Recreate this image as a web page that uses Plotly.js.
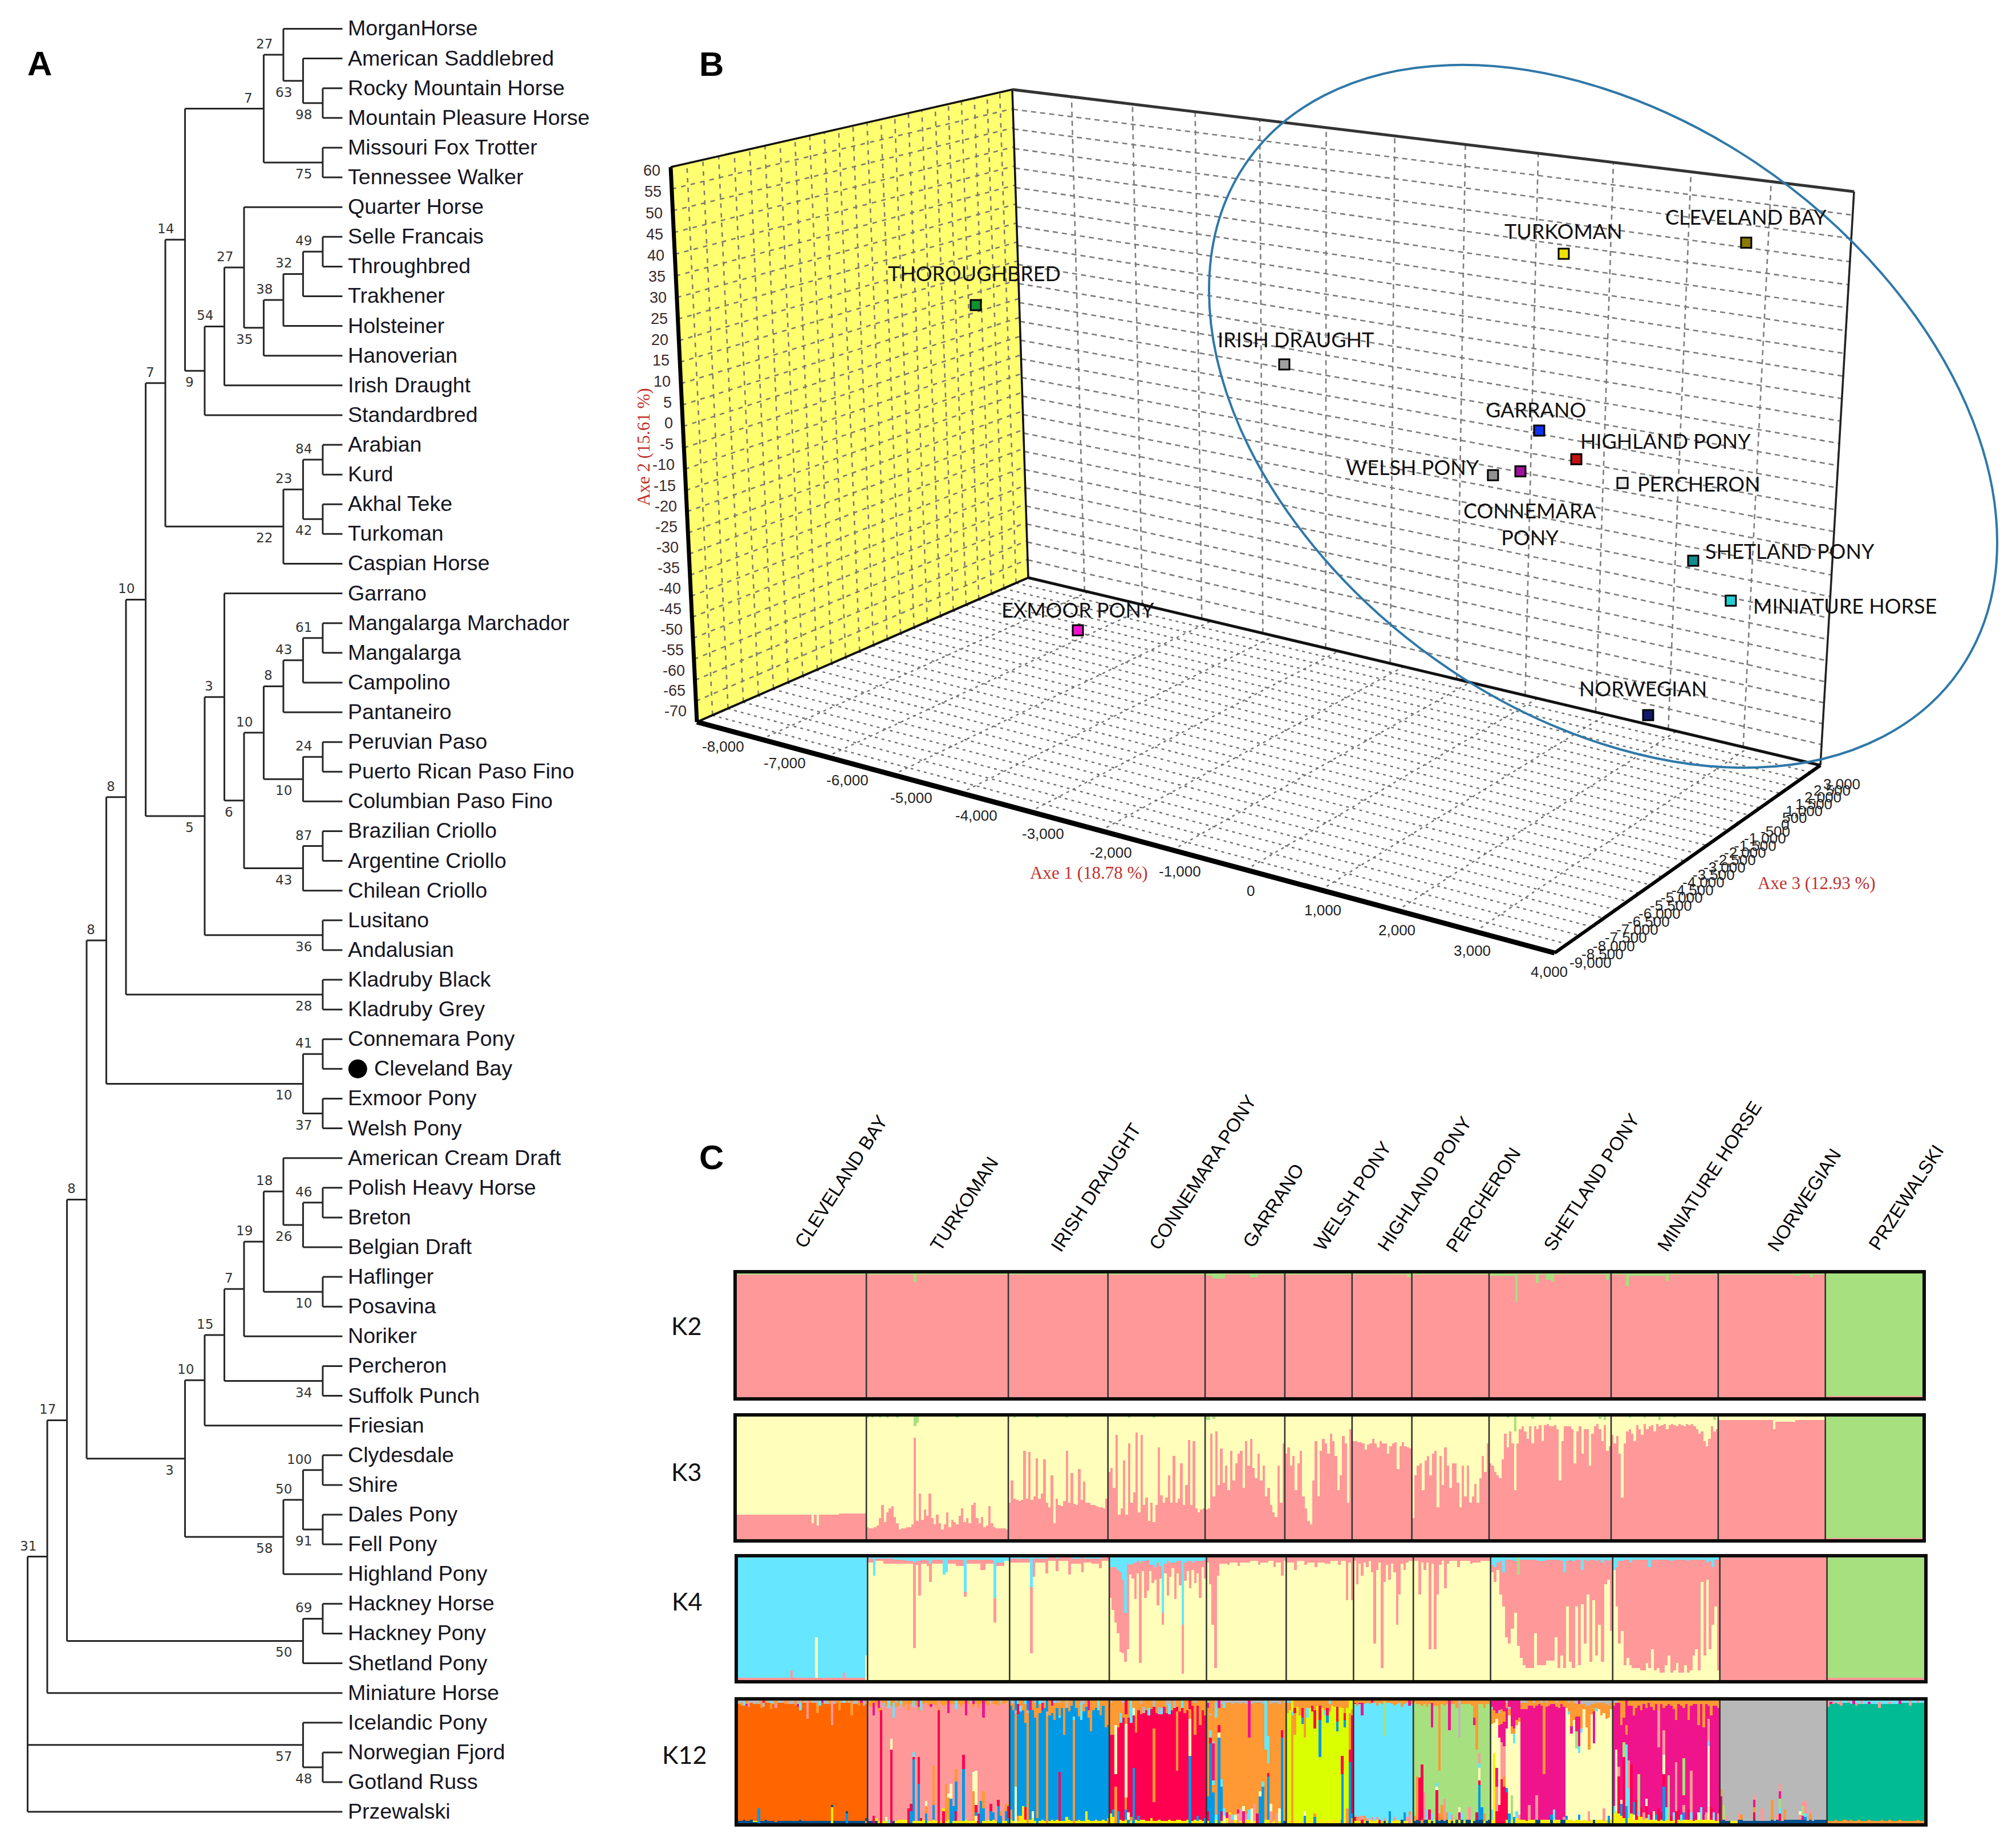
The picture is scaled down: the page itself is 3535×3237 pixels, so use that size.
<!DOCTYPE html>
<html><head><meta charset="utf-8">
<script src="https://cdn.plot.ly/plotly-3.0.1.min.js"></script>
<style>html,body{margin:0;padding:0;background:#fff}</style></head>
<body><div id="chart" style="width:3535px;height:3237px"></div>
<script>
/* ---------- PANEL A data: [level, bootstrap support, children...], leaf = name ---------- */
const TREE = [0,"",
 [1,"31",
  [2,"17",
   [3,"8",
    [4,"8",
     [5,"8",
      [6,"10",
       [7,"7",
        [8,"14",
         [12,"7",
          [13,"27","MorganHorse",[14,"63","American Saddlebred",[15,"98","Rocky Mountain Horse","Mountain Pleasure Horse"]]],
          [15,"75","Missouri Fox Trotter","Tennessee Walker"]],
         [9,"9",
          [10,"54",
           [11,"27","Quarter Horse",[12,"35",[13,"38",[14,"32",[15,"49","Selle Francais","Throughbred"],"Trakhener"],"Holsteiner"],"Hanoverian"]],
           "Irish Draught"],
          "Standardbred"]],
        [13,"22",[14,"23",[15,"84","Arabian","Kurd"],[15,"42","Akhal Teke","Turkoman"]],"Caspian Horse"]],
       [9,"5",
        [10,"3","Garrano",[11,"6",[12,"10",[13,"8",[14,"43",[15,"61","Mangalarga Marchador","Mangalarga"],"Campolino"],"Pantaneiro"],[14,"10",[15,"24","Peruvian Paso","Puerto Rican Paso Fino"],"Columbian Paso Fino"]],[14,"43",[15,"87","Brazilian Criollo","Argentine Criollo"],"Chilean Criollo"]]],
        [15,"36","Lusitano","Andalusian"]]],
      [15,"28","Kladruby Black","Kladruby Grey"]],
     [14,"10",[15,"41","Connemara Pony","Cleveland Bay"],[15,"37","Exmoor Pony","Welsh Pony"]]],
    [8,"3",
     [9,"10",
      [10,"15",
       [11,"7",
        [12,"19",
         [13,"18","American Cream Draft",[14,"26",[15,"46","Polish Heavy Horse","Breton"],"Belgian Draft"]],
         [15,"10","Haflinger","Posavina"]],
        "Noriker"],
       [15,"34","Percheron","Suffolk Punch"]],
      "Friesian"],
     [13,"58",[14,"50",[15,"100","Clydesdale","Shire"],[15,"91","Dales Pony","Fell Pony"]],"Highland Pony"]]],
   [14,"50",[15,"69","Hackney Horse","Hackney Pony"],"Shetland Pony"]],
  "Miniature Horse"],
 [14,"57","Icelandic Pony",[15,"48","Norwegian Fjord","Gotland Russ"]],
 "Przewalski"];

/* ---------- PANEL B data ---------- */
const POP_NAMES = ["THOROUGHBRED","CLEVELAND BAY","TURKOMAN","IRISH DRAUGHT","GARRANO","HIGHLAND PONY","CONNEMARA<br>PONY","WELSH PONY","PERCHERON","SHETLAND PONY","MINIATURE HORSE","NORWEGIAN","EXMOOR PONY"];
const POP_AXE1  = [-8775,2729,378,-3640,106,627,-142,-528,1262,2237,2748,1721,-7137];
const POP_AXE2  = [2.3,46.1,38.0,0.9,-4.2,-9.4,-14.8,-17,-13,-28.1,-35.7,-67.7,-81.5];
const POP_COLOR = ["#109030","#8a7a00","#f0e000","#a0a0a0","#1030f0","#c01010","#a0109a","#909090","#e8e8e8","#108c90","#20d0d0","#101a6a","#f010d0"];
const POP_LABEL_DX = [-3,0,0,20,-6,156,17,-141,134,169,200,-9,0];
const POP_LABEL_DY = [-56,-45,-40,-44,-37,-32,92,-14,1,-17,9,-47,-36];
const AXE1_TICKS = [-8000,-7000,-6000,-5000,-4000,-3000,-2000,-1000,0,1000,2000,3000,4000];
const AXE2_TICKS = [60,55,50,45,40,35,30,25,20,15,10,5,0,-5,-10,-15,-20,-25,-30,-35,-40,-45,-50,-55,-60,-65,-70];
const AXE3_TICKS = [-9000,-8500,-8000,-7500,-7000,-6500,-6000,-5500,-5000,-4500,-4000,-3500,-3000,-2500,-2000,-1500,-1000,-500,0,500,1000,1500,2000,2500,3000];

/* ---------- PANEL C data ---------- */
const BREEDS = ["CLEVELAND BAY","TURKOMAN","IRISH DRAUGHT","CONNEMARA PONY","GARRANO","WELSH PONY","HIGHLAND PONY","PERCHERON","SHETLAND PONY","MINIATURE HORSE","NORWEGIAN","PRZEWALSKI"];
const BREED_N = [52,57,40,39,32,27,24,31,49,43,43,39];
const BREED_CX = [1474,1690,1921,2108,2232,2371,2497,2600,2790,2997,3163,3342];
const BREED_CY = [2072,2111,2082,2056,2114,2097,2076,2104,2073,2062,2104,2099];
const CLUSTER = {p:"#ff9999",g:"#a6e07f",y:"#ffffbb",c:"#66e6ff",o:"#ff6600",b:"#0099e6",r:"#ff0050",a:"#ff9933",l:"#d9ff00",m:"#f0148c",s:"#b8b8b8",t:"#00bb94",k:"#ffee00",n:"#00508c"};
/* each column: cluster letter + percent, bottom to top; "_" = rest of the column in the breed's main cluster; *n = n individuals */
const K2_FILL = ["p","p","p","p","p","p","p","p","p","p","p","g"];
const K2_COLS = [
 "_g1*52",
 "_g1*19 _g7 _g1*37",
 "_g1*40",
 "_g1*39",
 "_g2*3 _g4*5 _g1*10 _g3*3 _g1*11",
 "_g1*27",
 "_g1*22 _g3*2",
 "_g1*31",
 "_g2*10 _g23 _g1*7 _g8 _g1*3 _g5*2 _g7 _g1*20 _g5 _g1",
 "_g1*6 _g10 _g2*15 _g6 _g1*20",
 "_g1*30 _g2*3 _g1*4 _g3 _g1*5",
 "p1_*39"];
const K3_FILL = ["y","y","y","y","y","y","y","y","y","y","y","g"];
const K3_COLS = [
 "p20*30 p13 p20 p11 p20*8 p21*11",
 "p10_g1 p9 p9_g1 p10 p11 p17_g1 p28 p14 p22_g1 p25 p27 p18 p13_g1 p8 p9 p9 p10 p10 p12 p83_g8 p15_g5 p37 p16 p24 p19 p37 p17 p12 p20 p13 p8 p12 p22 p10 p16 p14 p12_g1 p19 p25 p14 p17 p13 p28 p30 p17 p13 p18 p10 p11 p27 p13 p10 p9 p9 p9 p9 p8",
 "p30 p48 p33_g1 p32 p31 p32 p72 p33 p71 p32 p35 p66_g1 p33 p37 p65 p30 p26 p52 p13 p33 p28 p27 p31 p72_g1 p30 p54 p29 p28 p57 p32 p47 p30 p30 p28 p28 p27 p26 p26 p25 p33",
 "p55 p58 p42 p85 p20 p25 p64 p20 p78_g1 p30 p38 p87 p22 p85 p28 p34 p15 p30 p14_g1 p28 p75 p36 p30 p34 p52 p30 p68 p30 p33 p62 p28 p44 p81 p28 p80 p25 p22 p24 p25",
 "p24_g3 p25_g3 p86 p35_g2 p88 p44 p74 p46 p60 p40 p72 p48 p62 p70 p72 p42 p80 p60 p82 p58 p50 p70 p48 p60 p35 p42 p28 p22 p18 p60 p30 p78",
 "p70 p75 p60 p68 p40 p62 p72 p35 p25 p15 p12 p48 p80 p35 p72 p82 p78 p70 p86 p80 p68 p40 p52 p84 p78 p30 p90",
 "p80 p80 p79 p79 p78 p73 p77 p78 p82 p78 p75 p80 p78 p78 p70 p76 p78 p79 p57 p76 p79 p76 p75 p74",
 "p17 p52 p60 p62 p40 p64 p68 p52 p70 p72 p26 p68 p44 p75 p60 p42 p62 p62 p46 p26 p60 p35 p60 p30 p35 p45 p30 p50 p68 p55 p78",
 "p62 p60 p55 p52 p50 p65 p86 p75_g1 p88 p78 p40_g12 p78 p90 p92 p88 p82 p92 p78_g2 p92 p90 p93 p80 p93 p94 p92_g3 p92 p93 p90 p48 p80 p92 p92 p92 p90 p62 p88 p92 p70 p90 p90 p60 p86 p92 p94 p90_g2 p80 p93_g3 p72 p76",
 "p85 p78 p84 p70 p34 p78 p88 p90_g1 p86 p80 p93 p90 p85 p94_g1 p90 p92 p93 p88 p94 p92_g3 p93 p94 p90 p93 p94 p93_g1 p92 p94 p93 p92 p94 p93 p94 p92 p90 p86 p88 p80 p76 p82 p92 p88_g3 p90",
 "p97*22 p90 p96*8 p97*12",
 "p1g99*39"];
const K4_FILL = ["c","y","y","y","y","y","y","y","p","p","p","g"];
const K4_COLS = [
 "p2_*21 p8_ p2_*9 p2y33_ p2_*10 p6_ p2_*8 y20_",
 "_p3c1*2 _c15 _p2c1*3 _p4c1*4 _p3c2*4 _p2c3*3 _p70c4 _p3c3 _p28c3 _p3c2*2 _p4c3 _p15c5 _p3c2*4 _c14 _c12 _p3c2*3 _p5c2*3 _p4c28 _p3c2*5 _p8c2*2 _p3c2*3 _p20c33 _p3c4*3 _c3*2",
 "_p3c1*8 _p54c24 _p15c1 _p3c1*4 _p12c1 _p3*3 _p10c1 _p3*4 _p14 _p4c1*4 _p12 _p3c1*3 _p4c1*3 _p8c1 _p3*3",
 "_p25c8 _p35c8 _p45c8 _p52c10 _p65c12 _p60c18 _p40c45 _p70c5 _p8c6 _p12c5 _p30c4 _p10c3 _p82c4 _p8c3 _p30c3 _p25c2 _p5c6 _p15c6 _p10c8 _p35c4 _p10c7 _p10c45 _p8c5 _p28c3 _p12c4 _p5c4 _p30c4 _p10c3 _p20c3 _p40c55 _p15c4 _p8c3 _p22c3 _p6c4 _p18c3 _p10c3 _p30c3 _p5c3 _p15c2",
 "_p4 _p22 _p55 _p90 _p15 _p5*3 _p6 _p4*3 _p7 _p4*4 _p3*3 _p6 _p4*3 _p3*2 _p8 _p4*2 _p15 _p3",
 "_p4*3 _p10 _p3*3 _p6 _p4*3 _p8 _p4*3 _p5*2 _p3*3 _p6 _p3*2 _p35 _p4 _p35",
 "_p3 _p22 _p5 _p15 _p4 _p8 _p3 _p12 _p70 _p10 _p4 _p90 _p20 _p6 _p18 _p5 _p12 _p55 _p30 _p5 _p10 _p4 _p3*2",
 "_p3*2 _p30 _p4 _p10 _p4 _p75 _p5 _p75 _p30 _p6 _p3 _p25 _p5 _p3*3 _p8 _p3*4 _p5 _p4*3 _p3*4",
 "y88_c6 y80_c8 y90_c4 y70_c3 y60_c12 y35_c2 y30_c2 y42_c2 y55_c3 y28_g14 y18_c2 y12_c2 y10_c2*3 y38_c2 y12_c3*3 y16_c2*3 y35_c2 y10_c2 y20_c3 y10_c12 y60_c3 y15_c2 y10_c3 y60_c2 y12_c2 y62_c10 y30_c2 y70_c3 y15_c2 y65_c2 y20_c3 y45_c2 y15_c4 y78_c2 y82_c3 y40_c2",
 "y90_c10 y60_c8 y30_c3 y40_c3 y12_c2 y18_c2 y12_c4 y10_c2*3 y8_c2*2 y14_c2 y10_c8 y25_c2 y8_c2 y10_c2 y6_c2*2 y12_c2 y20_c2 y6_c3 y8_c2 y14_c2 y6_c2*2 y12_c2 y6_c3 y8_c2 y20_c2 y25_c2 y8_c2 y80_c2 y20_c2 y82_c4 y25_c3 y45_c8 y60_c2 y8_c2",
 "_*43",
 "p2_*39"];
const K12_FILL = ["o","p","b","r","a","l","c","g","m","m","s","t"];
const K12_COLS = [
 "n2_s3 n2_a2s2 n3_c3s1 n2_m1a3 n2_p4s1 n3_s2 n1k1_s3*2 b12_s3 n2_a6 n2_s3m2 n3_a2 n2_s2 n2_a5c2 n2_s3 n1_p3a3 n2_s2*3 n2_a3 n2_p3 n2_s3*2 n2_a4 n2_m2s3 n3_c6s2 n2_a2 n2_s2 n2_p15 n2_a2 n2_s2*2 n2_a8s2 n2_c4 n2_m2 n2_s3*2 n2_a3 k13n2_p20 n2_s3 n2_a2 n2_a8 n2_s2 n2_c2 b8n2_a2 n2_s2 n2_a12 n2_s3*2 n2_a4 n2_m2 n2_s4 a2n2_a3",
 "n2_a3s1 n2_a5 r6_m10a2 n2k2_a4 k2_a3m6 r92a2 k2_s3a2 k2y3_a4 c3_c6 r60y9_a4 n2_c12a2 k2_a3s2 k3_a4 k3_s3c3 k3_a5 k3_a3 r12_a8 b10r6_a3 k2b50r2c4_c5 k2_a4 k2b30r22_a3m5 k2r2_c8 k3_a3 b8a6y4_a2 k2_a4 k2_m2a3 k3b12a32_a3 k2_a4 r92a3 k2_a3 r10k2_a4 k2a30_a3 k3a18y3_m10 b20y12_a3 k2b12_a3 k2r8b24a10_c7 k2_a3 k2_a5 k2b42r12_a3 k3_m12 k2_a3 k2_s2 k2a24y16_a2m3 k2y4b3r6y28_a3 r8_a6 b18_a3 k2b10a14_m14 k2_a3 k3_a4 k2b8r6_s2 k3b6_a3 k2_a3 b14r5_a4 b6a4_s3 k2_a3 k2b8a6_a2 b4r10a2_s3",
 "k3a8_a2s2 k2_a5s3 y30a60s2 k2a4_r8s3 k6_c5a4 k14_a8 k3r10_a15c3 a90s2 k3_m8 k4y6_a8 k2_a12s2 b4a90 k2_a7c3 k3_m6s2 k2_a4s2 a88s3 k2_a12 k3_a6m4 k2_a14c2 k3_a4s2 k2r40_c2a10s2 k2_a6 k2_a28 k5_s6 k3_a9 k2_a4 a84c3 k2_a6 k3_a13 k2_c14s2 k2_a6s3 k10_a5 k3_a6m8 k2_a25 k2_a8 k3_a6 k2_c8 k2_a12 k3_a4 k2_a22 a4_a20",
 "k8_a26s2 k5b6_a28 a30_y40a20 b10_a22 k3_c8a10 k2_a12s2 k3b8a10y60a8 b3y6_a14 k2a3_c18 b45_y6a6 k3_a26 k2b4_a8 k3_a8s3 k3_s5a5 k2_a8 k2_c6a6 k4_a7 k2r15a60_s5 k2_a10 k3_s6a5 k2_c5a6 k2_m5a5 k2_a6s4 k3_c8s3 k2_a8 k2_s6 k3r40a48_a5 k3_a9 k2_c6 k2_a10 k3_a8 b55y30a8 k2_a4 k3_a26s2 k2b4_a4 k3_a20 k2_a8 b4_a12",
 "k2r8b12_m4s2 b65r5c6a12s2 b25a6c4m30s2 k3c4a10_c12s2 b70y4r6_m6 k2r8b20c6a4_s3 y6c6_c4s2 k4m5_s2 p7k2_s2 p3c4_s3 k3y4_s2 p8m3_s2 k2p10_s3 m10y4_s2 k3p5_s3 k3c8_m30 y12_s3 k2p14_s2 r8a6_s2 b22y4_s2 b30c4_s3 k3_c40 k3b35r3a8c22 p10y6_s3 k2_s2 p8_s2 k2y10_s3 b70r6_a6 n2_s2",
 "k3_a8c2 k3_a6s2 a88c3 k3_a18r4a6 k3_a5 k3_a12 k3_b5r8a6 b6y4_a30 k3_c8a6 k3_a6 k3_r5a4 b5a3_r15a8 k3_a4 k3_b30r12a4 k3_a6 k3_c4a8 k3_b6r6a6 k3_a6c3 k3_a4 k3_a5 k3_b8r12a5 k3_a5 b40r15_a6 k3_b6r6a10 a12_a6 b50r10a30 a4b4r80a5",
 "k2r3p2_m1a2 k2a3_a4 k2p4_m1a2 r3p3_m10a2 k2a4_a3 n2p2_a2 k3_a3 k2p3_m2 k2_a2 k3p2_a4 r3_a2 k2_a3 n2p2_g28a1 k2_a2 b10_a2 k2_a3 k2p3_a4 k3_a3 k2_a2 n3_a5 k2b7_a3 k2p3_a2 p7a3_m4 k3_a3",
 "n2a4_a2 n3a35_a3 n2r35_a3 a3r45_a4 n3p22_a3 n3c8_a5 k3r8_a3 n2c6_m20a2 k3_a4 n3r24y3c3_a4 n2a6_a57 n3a12_a3 n2p18_a4 n3a6_a3 k3c6_m24 n2p5_a3 k3_a3 n3_a6 k3r6y4_s30 n3c6_a3 k2_a3 n3_a3 n3p10_a3 k3_a4 n2_m6a14 n3r6_a40 n3b28r4y10c4p8_a3 n3b10_a3 k2a6_a6 n2_a3 n3_a3",
 "k3c8y70a12s2 k2k55y25a10 r10p20m15y40a5 r15y55m10a10s2 r36p30m15a12 r30a8p25m20a8 k3r22b4y48_a4s2 b8y80a5s2 k3g20y50a6 b5y60c8a4 k4c6y70a4 k3p4y76a3 k3_a5s2*2 k2_a5s2 k3p12_a4 k3_a4 k3_a4s2 n3p20_a4 n3_a3 k3_a2s2 k3_a60 k3_a3s2 k3_a4 n3b4_a3 k3c8_a3 k3_a3s2 k3_a6 n3_a3 n3p2_a5 k3b3y88a6 k3y86c2a7s2 k3y70m6a18a3 k2y82a14s2 k3y58g14m12a10s3 k3b4y50c6m24a10 k2y72c3a20s3 k3y90a4s3 k2y76a18s4 k2p8y50a36s4 k3y86a8s3 n3y62m26a6s3 k3y88c3a4s2 k3y90a5s2 k3y85a10s2 k2p10y78a8s2 k3y82a12s3 b6y80a10s4 k3y90a5s2",
 "k8c6_a2s2 k10y50_s2 k8r30p8_a2 k6b10y3_a20 k4r50g12_a14 b14c50m8a8 k4c25p22_a4 k8r40_a4 k3y4b10_a12 k3r16_a6 k6c4g30_a4 k5r8_a8 k3p6_a3 k4r10y6_a6 k3c4_a2 k3r6_a5 k2y8_a8 k3b4_a3 k2r10_p30a8 k3r6_a3 k2b28r10y16p20_a6 k3c10_a4 k3g36_a3 k2r4_a4 k3c6_a7 r10p40_a16 k3r8_a3 k2c5_a4 k3b6p6m8g30_a6 k3_a3 k3r8_a16 k3c6p34_a4 k2_a3 k3r4_a3 k3y6_a20 k3c10_a3 k3r4_a22 k3p6_a3 k3y60c4p18_a4 k3r10_a12 k3c6_a4 k2_a4 k2p6_a6",
 "n2r20a6_ n3g12_ n2p4_ n2_ k2_*3 n3p6_ n3a4_ n2_*4 n3r6a4m6p4_ n2_*2 n2p10_ n2_*3 n3a16_ n2_ n3p4_ n2r6c4g8m6p6_ n2_ n3a8_ n3_*5 n3p4y3_ n3m3g8p3_ n3b2c3p10_ n2_ n3a5p3_ n2_ n3_*2 n3_ n3_*2",
 "a2_p5 a2_m2c1 a2_p3 a3_c2 a2_p2c1 a2_p4 a3_c2*2 a2_p2 a3_c3 a2_m3 a2_p2c2 a3_c3 a2_p3 a2_c3*2 a3_m2c1 a2_c3*3 a2_p5c1 a3_c3 a2_c3*2 a3_p2c1 a2_c3*3 a3_m3 a2_c2*3 a2_p4 a2_c2*2 a3_p2 a2_c2*2"];

/* ---------- layout helpers (page pixels) ---------- */
const W = 3535, H = 3237;
const domX = (a,b)=>[a/W,b/W];
const domY = (top,bot)=>[1-bot/H,1-top/H];
const data = [], shapes = [], annotations = [];
const note = (o)=>annotations.push(Object.assign({showarrow:false,font:{family:"Liberation Sans",size:30,color:"#111"}},o));

/* ---------- PANEL A ---------- */
const LEAF_COUNT = 61, LEVEL_MAX = 26, LEAF_PX = 52.11, LEVEL_PX = 34.5, PAD = 1;
let leafCursor = 0;
const tx = [], ty = [];
function walk(node){
  if (typeof node === "string"){
    const y = leafCursor++;
    const isCB = node === "Cleveland Bay";
    note({xref:"x",yref:"y",x:isCB?17.55:16.23,y:y,text:node,xanchor:"left",yanchor:"middle",yshift:1,
      font:{family:"Liberation Sans",size:37.6,color:"#161622"}});
    return {lvl:16,y:y};
  }
  const lvl = node[0], kids = node.slice(2).map(walk);
  const y = (kids[0].y + kids[kids.length-1].y)/2;
  tx.push(lvl,lvl,null); ty.push(kids[0].y,kids[kids.length-1].y,null);
  kids.forEach((k,i)=>{
    tx.push(lvl,k.lvl,null); ty.push(k.y,k.y,null);
    const child = node[i+2];
    if (typeof child !== "string" && child[1]){
      note({xref:"x",yref:"y",x:k.lvl,y:k.y,xshift:-17,yshift:i===0?19:-20,text:child[1],xanchor:"right",yanchor:"middle",
        font:{family:"DejaVu Sans",size:23,color:"#333"}});
    }
  });
  return {lvl:lvl,y:y};
}
walk(TREE);
data.push({type:"scatter",mode:"lines",x:tx,y:ty,xaxis:"x",yaxis:"y",line:{color:"#262626",width:3},hoverinfo:"skip",showlegend:false,cliponaxis:false,connectgaps:false});
data.push({type:"scatter",mode:"markers",x:[16.78],y:[35],xaxis:"x",yaxis:"y",marker:{color:"#000",size:33},hoverinfo:"skip",showlegend:false,cliponaxis:false});

/* ---------- PANEL B : perspective box drawn on a page-wide axis pair ---------- */
function quad(c){ // maps unit square onto quad c=[p00,p10,p11,p01]
  const [x0,y0]=c[0],[x1,y1]=c[1],[x2,y2]=c[2],[x3,y3]=c[3];
  const dx1=x1-x2,dx2=x3-x2,sx=x0-x1+x2-x3,dy1=y1-y2,dy2=y3-y2,sy=y0-y1+y2-y3;
  const det=dx1*dy2-dx2*dy1,g=(sx*dy2-dx2*sy)/det,h=(dx1*sy-sx*dy1)/det;
  const a=x1-x0+g*x1,b=x3-x0+h*x3,d=y1-y0+g*y1,e=y3-y0+h*y3;
  return (u,v)=>{const w=g*u+h*v+1;return [(a*u+b*v+x0)/w,(d*u+e*v+y0)/w];};
}
const C = {fl:[1222,1266],fr:[2726,1671],bl:[1803,1013],br:[3192,1342],tl:[1775,157],tr:[3251,336],ft:[1176,293]};
const U1 = v=>(v+8000)/12000, U2 = v=>(v+70)/130, U3 = v=>(v+9000)/12000;
const back  = quad([C.bl,C.br,C.tr,C.tl]);       // (axe1, axe2)
const left  = quad([C.fl,C.bl,C.tl,C.ft]);       // (axe3, axe2)
const floor = quad([C.fl,C.fr,C.br,C.bl]);       // (axe1, axe3)
function addLine(pts,color,width,dash){
  data.push({type:"scatter",mode:"lines",x:pts.map(p=>p?p[0]:null),y:pts.map(p=>p?p[1]:null),xaxis:"x2",yaxis:"y2",
    line:{color:color,width:width,dash:dash||"solid"},hoverinfo:"skip",showlegend:false,cliponaxis:false});
}
data.push({type:"scatter",mode:"lines",x:[C.fl[0],C.bl[0],C.tl[0],C.ft[0],C.fl[0]],y:[C.fl[1],C.bl[1],C.tl[1],C.ft[1],C.fl[1]],xaxis:"x2",yaxis:"y2",
  fill:"toself",fillcolor:"#ffff70",line:{width:0},hoverinfo:"skip",showlegend:false});
function grid(face,uVals,vVals,color,width,dash){
  const pts=[];
  uVals.forEach(u=>{pts.push(face(u,0),face(u,1),null);});
  vVals.forEach(v=>{pts.push(face(0,v),face(1,v),null);});
  addLine(pts,color,width,dash);
}
grid(back,AXE1_TICKS.map(U1),AXE2_TICKS.map(U2),"#7c7c7c",2.6,"9px,7px");
grid(left,AXE3_TICKS.map(U3),AXE2_TICKS.map(U2),"#7c7c70",2.6,"8px,9px");
grid(floor,AXE1_TICKS.map(U1),AXE3_TICKS.map(U3),"#707070",2.4,"5px,7px");
addLine([C.fl,C.ft],"#000",7); addLine([C.ft,C.tl],"#111",3.5); addLine([C.tl,C.bl],"#111",3.5);
addLine([C.tl,C.tr],"#333",5);  addLine([C.tr,C.br],"#222",3.5); addLine([C.fl,C.bl],"#111",4);
addLine([C.bl,C.br],"#111",5);  addLine([C.fl,C.fr],"#000",9);   addLine([C.fr,C.br],"#000",6);

const popPts = POP_AXE1.map((a,i)=>back(U1(a),U2(POP_AXE2[i])));
data.push({type:"scatter",mode:"markers",x:popPts.map(p=>p[0]),y:popPts.map(p=>p[1]),xaxis:"x2",yaxis:"y2",
  marker:{symbol:"square",size:18,color:POP_COLOR,line:{color:"#000",width:3}},text:POP_NAMES,hoverinfo:"text",showlegend:false,cliponaxis:false});
POP_NAMES.forEach((n,i)=>{
  note({xref:"x2",yref:"y2",x:popPts[i][0]+POP_LABEL_DX[i],y:popPts[i][1]+POP_LABEL_DY[i],text:n,xanchor:"center",yanchor:"middle",
    font:{family:"Lato",size:36,color:"#111"}});
});
AXE2_TICKS.forEach(v=>{const t=U2(v),p=left(0,t);
  note({xref:"x2",yref:"y2",x:p[0]-16,y:p[1]-19+25*t,text:String(v),xanchor:"right",yanchor:"middle",font:{family:"Liberation Sans",size:27,color:"#3a2a2a"}});});
const fmt = v=>(v<0?"-":"")+Math.abs(v).toString().replace(/\B(?=(\d{3})+$)/g,",");
AXE1_TICKS.forEach(v=>{const u=U1(v),p=floor(u,0);
  note({xref:"x2",yref:"y2",x:p[0]+46-56*u,y:p[1]+43-10*u,text:fmt(v),xanchor:"center",yanchor:"middle",font:{family:"Liberation Sans",size:26,color:"#222"}});});
AXE3_TICKS.forEach(v=>{const t=U3(v),p=floor(1,t);
  note({xref:"x2",yref:"y2",x:p[0]+63-26*t,y:p[1]+17+16*t,text:fmt(v),xanchor:"center",yanchor:"middle",font:{family:"Liberation Sans",size:26,color:"#222"}});});
const redFont={family:"Liberation Serif",size:31,color:"#c0322e"};
note({xref:"x2",yref:"y2",x:1128,y:784,text:"Axe 2 (15.61 %)",textangle:-90,font:redFont});
note({xref:"x2",yref:"y2",x:1909,y:1530,text:"Axe 1 (18.78 %)",font:redFont});
note({xref:"x2",yref:"y2",x:3185,y:1548,text:"Axe 3 (12.93 %)",font:redFont});

/* ring round the grouped populations */
const ring={cx:2811,cy:730,ax:691,ay:221,by:575},K=0.5523;
const rp=(c,s)=>`${ring.cx+ring.ax*c},${ring.cy+ring.ay*c+ring.by*s}`;
shapes.push({type:"path",xref:"x2",yref:"y2",layer:"above",line:{color:"#2f78a8",width:4},
  path:`M${rp(1,0)} C${rp(1,K)} ${rp(K,1)} ${rp(0,1)} C${rp(-K,1)} ${rp(-1,K)} ${rp(-1,0)} C${rp(-1,-K)} ${rp(-K,-1)} ${rp(0,-1)} C${rp(K,-1)} ${rp(1,-K)} ${rp(1,0)} Z`});

/* ---------- PANEL C ---------- */
function parseCols(cols,fill){
  const out=[];
  cols.forEach((str,b)=>{
    const rows=[];
    str.trim().split(/\s+/).forEach(tok=>{
      const m=tok.match(/^([^*]*)(?:\*(\d+))?$/),n=m[2]?+m[2]:1;
      const seg=s=>(s.match(/[a-z]\d+/g)||[]).map(x=>[x[0],+x.slice(1)]);
      let col;
      if(m[1].includes("_")){
        const [l,r]=m[1].split("_"),a=seg(l),c=seg(r);
        const used=[...a,...c].reduce((t,x)=>t+x[1],0);
        col=[...a,[fill[b],Math.max(0,100-used)],...c];
      } else {
        col=seg(m[1]);
        const used=col.reduce((t,x)=>t+x[1],0);
        if(used<100) col.push([fill[b],100-used]);
      }
      for(let i=0;i<n;i++) rows.push(col);
    });
    out.push(rows);
  });
  return out;
}
const TOTAL = BREED_N.reduce((a,b)=>a+b,0);
const ROWS = [
 {name:"K2", cols:K2_COLS, fill:K2_FILL, x:[1292,3371],y:[2233,2450],ly:2324,lx:1203},
 {name:"K3", cols:K3_COLS, fill:K3_FILL, x:[1292,3371],y:[2484,2699],ly:2580,lx:1203},
 {name:"K4", cols:K4_COLS, fill:K4_FILL, x:[1294,3374],y:[2731,2946],ly:2807,lx:1204},
 {name:"K12",cols:K12_COLS,fill:K12_FILL,x:[1294,3374],y:[2982,3197],ly:3076,lx:1200}];
const layout = {
  width:W,height:H,autosize:false,margin:{l:0,r:0,t:0,b:0,pad:0},paper_bgcolor:"#fff",plot_bgcolor:"rgba(0,0,0,0)",
  barmode:"stack",showlegend:false,hovermode:false,
  /* one spare unit round the tree so its outermost lines are not cut in half at the axis edge */
  xaxis:{domain:domX(48.4-PAD*LEVEL_PX,48.4+LEVEL_MAX*LEVEL_PX),range:[-PAD,LEVEL_MAX],visible:false,anchor:"y"},
  yaxis:{domain:domY(50.5-PAD*LEAF_PX/2,50.5+(LEAF_COUNT-1+PAD/2)*LEAF_PX),range:[LEAF_COUNT-1+PAD/2,-PAD/2],visible:false,anchor:"x"},
  xaxis2:{domain:[0,1],range:[0,W],visible:false,anchor:"y2"},
  yaxis2:{domain:[0,1],range:[H,0],visible:false,anchor:"x2"}
};
ROWS.forEach((r,ri)=>{
  const ax=ri+3, xa="x"+ax, ya="y"+ax;
  layout["xaxis"+ax]={domain:domX(r.x[0],r.x[1]),range:[0,TOTAL],anchor:ya,showgrid:false,zeroline:false,showticklabels:false,ticks:"",
    showline:true,mirror:true,linecolor:"#0c0c0c",linewidth:6};
  layout["yaxis"+ax]={domain:domY(r.y[0],r.y[1]),range:[0,100],anchor:xa,showgrid:false,zeroline:false,showticklabels:false,ticks:"",
    showline:true,mirror:true,linecolor:"#0c0c0c",linewidth:6};
  const parsed=parseCols(r.cols,r.fill);
  const layers=[];
  let start=0;
  parsed.forEach((colsB,b)=>{
    const w=BREED_N[b]/colsB.length;
    colsB.forEach((col,i)=>{
      col.forEach((s,j)=>{
        if(!layers[j]) layers[j]={x:[],y:[],width:[],color:[]};
        const L=layers[j];
        L.x.push(start+(i+0.5)*w); L.y.push(s[1]); L.width.push(w*1.02); L.color.push(CLUSTER[s[0]]);
      });
    });
    start+=BREED_N[b];
    if(b<BREED_N.length-1) shapes.push({type:"line",xref:xa,yref:ya,x0:start,x1:start,y0:0,y1:100,layer:"above",line:{color:"#333",width:2.6}});
  });
  layers.forEach(L=>data.push({type:"bar",x:L.x,y:L.y,width:L.width,xaxis:xa,yaxis:ya,marker:{color:L.color,line:{width:0}},hoverinfo:"skip",showlegend:false}));
  note({xref:"x2",yref:"y2",x:r.lx,y:r.ly,text:r.name,font:{family:"Lato",size:43,color:"#111"}});
});
BREEDS.forEach((b,i)=>note({xref:"x2",yref:"y2",x:BREED_CX[i],y:BREED_CY[i],text:b,textangle:-57,font:{family:"Liberation Sans",size:33,color:"#000"}}));

/* panel letters */
[["A",69,111],["B",1247,112],["C",1247,2029]].forEach(l=>note({xref:"x2",yref:"y2",x:l[1],y:l[2],text:"<b>"+l[0]+"</b>",font:{family:"Liberation Sans",size:60,color:"#000"}}));

layout.shapes=shapes; layout.annotations=annotations;
Plotly.newPlot("chart",data,layout,{staticPlot:true,displayModeBar:false});
</script></body></html>
